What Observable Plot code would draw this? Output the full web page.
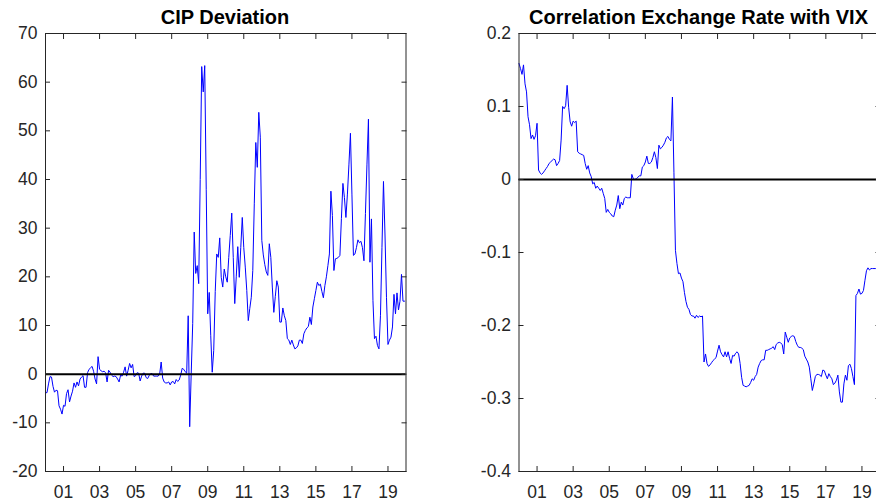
<!DOCTYPE html>
<html><head><meta charset="utf-8">
<script src="https://cdn.jsdelivr.net/npm/d3@7"></script>
<script src="https://cdn.jsdelivr.net/npm/@observablehq/plot@0.6"></script>
<style>
html,body{margin:0;padding:0;background:#fff;overflow:hidden;}
#wrap{position:relative;width:876px;height:502px;overflow:hidden;background:#fff;}
.panel{position:absolute;top:0;width:440px;height:502px;}
.panel svg{max-width:none;display:block;}
.title{position:absolute;top:7px;text-align:center;font:bold 20px "Liberation Sans",Arial,sans-serif;line-height:1;color:#000;white-space:nowrap;}
</style></head><body>
<div id="wrap">
  <div class="panel" id="p1" style="left:0"><div class="title" style="left:45px;width:360px">CIP Deviation</div></div>
  <div class="panel" id="p2" style="left:440px"><div class="title" style="left:78px;width:361px">Correlation Exchange Rate with VIX</div></div>
</div>
<script>
// Monthly observations, starting January 2000
const startYear = 2000;

// CIP deviation (one row per year, Jan..Dec)
const cipDeviation = [
  -3.8, -3.8, -2.0, -0.5, -0.6, -2.5, -3.7, -3.3, -3.4, -6.5, -7.2, -8.2,
  -6.4, -6.6, -4.0, -3.2, -5.7, -4.5, -3.5, -1.8, -2.7, -1.6, -2.4, -1.0,
  -0.6, -0.3, -2.7, -2.7, 0.3, 1.0, 1.3, 1.6, 0.6, -1.0, -2.0, 3.6,
  1.0, 0.7, 0.5, 0.6, 0.3, -1.6, 0.8, 0.4, -0.2, -0.5, -0.4, -0.5,
  -1.0, -1.6, -0.2, -0.4, 0.4, 1.5, -0.4, 0.8, 2.2, 1.3, 2.0, -0.5,
  -0.3, 0.3, 0.2, -1.4, -0.4, 0.2, 0.2, -0.7, -0.9, -0.3, 0.1, 0.1,
  -0.4, -0.4, -0.4, -0.4, 0.0, 2.5, -0.8, -1.6, -1.8, -1.8, -1.6, -2.2,
  -1.6, -1.5, -2.0, -1.1, -1.5, -1.2, -0.2, 1.2, 1.0, 0.5, 0.2, 12.0,
  -10.8, 0.0, 10.4, 29.2, 20.7, 22.3, 18.6, 40.0, 63.2, 58.0, 63.4, 38.0,
  12.4, 16.8, 8.0, 0.4, 4.9, 17.0, 24.7, 24.0, 28.0, 19.9, 17.9, 21.6,
  20.0, 18.9, 24.0, 28.5, 33.1, 24.0, 14.5, 20.0, 26.2, 19.9, 26.0, 32.2,
  26.0, 22.0, 17.2, 11.0, 13.5, 15.8, 21.3, 35.0, 47.6, 42.5, 53.8, 48.7,
  27.5, 24.5, 22.5, 21.0, 20.3, 26.8, 24.0, 17.9, 12.7, 16.0, 19.2, 17.9,
  10.7, 10.7, 13.6, 12.0, 11.0, 7.3, 7.0, 6.1, 7.0, 6.0, 5.2, 5.4,
  5.8, 7.0, 7.0, 6.3, 8.3, 9.0, 9.5, 9.8, 11.7, 10.2, 13.8, 15.5,
  17.2, 18.9, 18.2, 18.5, 17.0, 15.7, 18.2, 20.0, 22.3, 24.7, 37.6, 32.6,
  21.3, 23.7, 23.8, 24.0, 24.4, 32.0, 39.2, 36.3, 32.2, 37.0, 43.0, 49.5,
  37.0, 24.4, 24.7, 26.0, 27.6, 27.0, 27.3, 26.0, 23.3, 33.0, 43.0, 52.4,
  23.0, 31.9, 15.1, 7.3, 7.8, 5.9, 5.2, 12.0, 26.0, 39.6, 28.8, 15.8,
  6.1, 7.0, 7.6, 9.7, 16.4, 12.4, 16.7, 13.2, 15.0, 20.5, 15.0, 15.0
];

// Correlation of exchange rate with VIX (one row per year, Jan..Dec)
const corrVix = [
  0.159, 0.152, 0.144, 0.157, 0.131, 0.120, 0.086, 0.075, 0.056, 0.061, 0.055, 0.060,
  0.077, 0.013, 0.009, 0.007, 0.009, 0.012, 0.015, 0.018, 0.022, 0.024, 0.026, 0.028,
  0.027, 0.019, 0.022, 0.026, 0.054, 0.100, 0.097, 0.101, 0.129, 0.099, 0.079, 0.073,
  0.080, 0.078, 0.080, 0.038, 0.036, 0.035, 0.034, 0.033, 0.022, 0.014, 0.019, 0.009,
  0.004, -0.006, -0.004, -0.012, -0.009, -0.012, -0.015, -0.012, -0.019, -0.026, -0.045, -0.041,
  -0.045, -0.047, -0.050, -0.051, -0.042, -0.035, -0.022, -0.040, -0.031, -0.035, -0.026, -0.024,
  -0.025, -0.025, -0.025, 0.007, 0.001, 0.000, 0.001, 0.003, 0.005, 0.005, 0.017, 0.019,
  0.024, 0.032, 0.022, 0.022, 0.024, 0.030, 0.038, 0.030, 0.015, 0.047, 0.042, 0.044,
  0.047, 0.051, 0.057, 0.059, 0.055, 0.053, 0.113, 0.010, -0.097, -0.115, -0.129, -0.128,
  -0.135, -0.140, -0.155, -0.167, -0.175, -0.178, -0.185, -0.187, -0.187, -0.190, -0.186, -0.189,
  -0.187, -0.188, -0.187, -0.250, -0.239, -0.252, -0.256, -0.254, -0.251, -0.248, -0.246, -0.244,
  -0.235, -0.227, -0.236, -0.240, -0.243, -0.236, -0.243, -0.236, -0.245, -0.252, -0.241, -0.242,
  -0.238, -0.236, -0.239, -0.252, -0.271, -0.282, -0.283, -0.284, -0.283, -0.282, -0.278, -0.273,
  -0.275, -0.270, -0.267, -0.257, -0.252, -0.248, -0.247, -0.247, -0.234, -0.234, -0.233, -0.232,
  -0.231, -0.229, -0.233, -0.226, -0.224, -0.223, -0.224, -0.226, -0.239, -0.209, -0.216, -0.223,
  -0.217, -0.215, -0.214, -0.215, -0.222, -0.227, -0.230, -0.230, -0.231, -0.233, -0.242, -0.246,
  -0.250, -0.257, -0.273, -0.289, -0.280, -0.270, -0.267, -0.267, -0.268, -0.270, -0.261, -0.262,
  -0.268, -0.273, -0.266, -0.270, -0.273, -0.281, -0.279, -0.275, -0.268, -0.291, -0.305, -0.305,
  -0.280, -0.268, -0.275, -0.255, -0.253, -0.259, -0.270, -0.281, -0.159, -0.156, -0.150, -0.157,
  -0.156, -0.152, -0.138, -0.125, -0.121, -0.124, -0.122, -0.122, -0.122, -0.122, -0.122, -0.122
];

const xTickYears = [2001, 2003, 2005, 2007, 2009, 2011, 2013, 2015, 2017, 2019];
const xTickLabels = ["01", "03", "05", "07", "09", "11", "13", "15", "17", "19"];
const cipTicks = [-20, -10, 0, 10, 20, 30, 40, 50, 60, 70];
const cipTickLabels = ["-20", "-10", "0", "10", "20", "30", "40", "50", "60", "70"];
const corrTicks = [-0.4, -0.3, -0.2, -0.1, 0, 0.1, 0.2];
const corrTickLabels = ["-0.4", "-0.3", "-0.2", "-0.1", "0", "0.1", "0.2"];

const FONT = '"Liberation Sans", Arial, Helvetica, sans-serif';
const AX = "#262626";

function panel({values, yDomain, yTicks, yLabels, marginLeft, marginRight}) {
  const data = values.map((v, i) => ({t: startYear + i / 12, v}));
  const common = {label: null, fontSize: 17.5, color: AX, strokeWidth: 1};
  return Plot.plot({
    width: 440, height: 502,
    marginLeft, marginRight, marginTop: 33, marginBottom: 31,
    style: {fontFamily: FONT, fontSize: "17.5px", color: AX, background: "transparent", overflow: "visible"},
    x: {domain: [2000, 2020], label: null},
    y: {domain: yDomain, label: null},
    marks: [
      Plot.line(data, {x: "t", y: "v", stroke: "#0000ff", strokeWidth: 1}),
      Plot.ruleY([0], {stroke: "#000", strokeWidth: 2}),
      Plot.frame({stroke: AX, strokeWidth: 1}),
      Plot.axisX(xTickYears, {...common, anchor: "bottom", tickSize: 0, tickPadding: 14,
        tickFormat: d => xTickLabels[xTickYears.indexOf(d)]}),
      Plot.axisX(xTickYears, {...common, anchor: "bottom", tickSize: -5, fill: "none"}),
      Plot.axisX(xTickYears, {...common, anchor: "top", tickSize: -5, fill: "none"}),
      Plot.axisY(yTicks, {...common, anchor: "left", tickSize: 0, tickPadding: 8,
        tickFormat: d => yLabels[yTicks.indexOf(d)]}),
      Plot.axisY(yTicks, {...common, anchor: "left", tickSize: -5, fill: "none"}),
      Plot.axisY(yTicks, {...common, anchor: "right", tickSize: -5, fill: "none"})
    ]
  });
}

document.getElementById("p1").appendChild(panel({
  values: cipDeviation, yDomain: [-20, 70], yTicks: cipTicks, yLabels: cipTickLabels,
  marginLeft: 45, marginRight: 34.5
}));
document.getElementById("p2").appendChild(panel({
  values: corrVix, yDomain: [-0.4, 0.2], yTicks: corrTicks, yLabels: corrTickLabels,
  marginLeft: 78.5, marginRight: 0.5
}));
</script>
</body></html>
